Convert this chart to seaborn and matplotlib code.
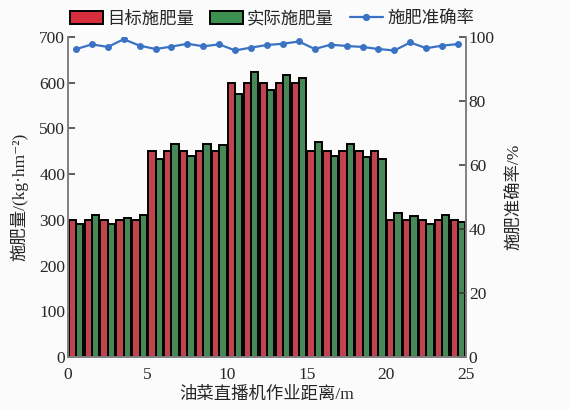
import numpy as np
import pandas as pd
import matplotlib
matplotlib.use("Agg")
import matplotlib.pyplot as plt
from matplotlib.patches import Patch
from matplotlib.lines import Line2D
import seaborn as sns

positions = [i + 0.5 for i in range(25)]
target = [300]*5 + [450]*5 + [600]*5 + [450]*5 + [300]*5
actual = [290, 310, 292, 304, 311,
          434, 467, 440, 466, 463,
          576, 623, 585, 616, 611,
          470, 440, 465, 437, 433,
          314, 308, 290, 311, 295]
accuracy = [96.2, 97.7, 96.9, 99.3, 97.3, 96.25, 97.0, 97.9, 97.1, 97.7,
            95.8, 96.7, 97.5, 97.9, 98.6, 96.25, 97.6, 97.2, 96.9, 96.25,
            95.8, 98.3, 96.5, 97.3, 97.8]
series_names = ["目标施肥量", "实际施肥量", "施肥准确率"]

sns.set_style("white")
plt.rcParams['font.family'] = ['Liberation Serif', 'Noto Sans CJK SC', 'DejaVu Sans']

df = pd.DataFrame({
    "pos": positions * 2,
    "value": target + actual,
    "series": [series_names[0]] * 25 + [series_names[1]] * 25,
})

red = "#d62e3d"
green = "#3d9150"
blue = "#3a72c4"
spine_c = "#808080"
fs = 12.5

fig = plt.figure(figsize=(5.69, 4.09), dpi=100)
fig.patch.set_facecolor("#fbfbfb")
ax = fig.add_axes([0.1195, 0.1271, 0.6995, 0.7824])
ax.set_facecolor("#fbfbfb")

sns.barplot(data=df, x="pos", y="value", hue="series", native_scale=True,
            palette=[red, green], width=0.92, gap=0, errorbar=None,
            edgecolor="black", linewidth=1.4, ax=ax, legend=False)

ax2 = ax.twinx()
sns.lineplot(x=positions, y=accuracy, ax=ax2, color=blue, marker="o",
             markersize=4.2, markeredgecolor=blue, linewidth=1.6)

ax.set_xlim(0, 25)
ax.set_ylim(0, 700)
ax2.set_ylim(0, 100)
ax.set_xticks([0, 5, 10, 15, 20, 25])
ax.set_yticks(range(0, 701, 100))
ax2.set_yticks(range(0, 101, 20))

for a in (ax, ax2):
    a.spines['top'].set_visible(False)
    for s in ('left', 'right', 'bottom'):
        a.spines[s].set_color(spine_c)
        a.spines[s].set_linewidth(1.2)
    a.tick_params(direction='in', length=5, width=1.1, color='#333333',
                  labelsize=fs, pad=2)
ax.tick_params(axis='x', bottom=True, pad=7)
ax.tick_params(axis='y', left=True)
ax2.tick_params(axis='y', right=True)

ax.set_xlabel("油菜直播机作业距离/m", fontsize=fs, labelpad=3)
ax.set_ylabel("施肥量/(kg·hm⁻²)", fontsize=fs, labelpad=8)
ax2.set_ylabel("施肥准确率/%", fontsize=fs, labelpad=9)

handles = [Patch(facecolor=red, edgecolor="black", linewidth=1.4),
           Patch(facecolor=green, edgecolor="black", linewidth=1.4),
           Line2D([], [], color=blue, marker="o", markersize=4.2, linewidth=1.6)]
fig.legend(handles, series_names, loc="center", bbox_to_anchor=(0.478, 0.953),
           ncol=3, frameon=False, fontsize=fs, handlelength=1.9, handleheight=0.8,
           columnspacing=0.9, handletextpad=0.25)

fig.savefig("out.png", dpi=100, facecolor=fig.get_facecolor())
